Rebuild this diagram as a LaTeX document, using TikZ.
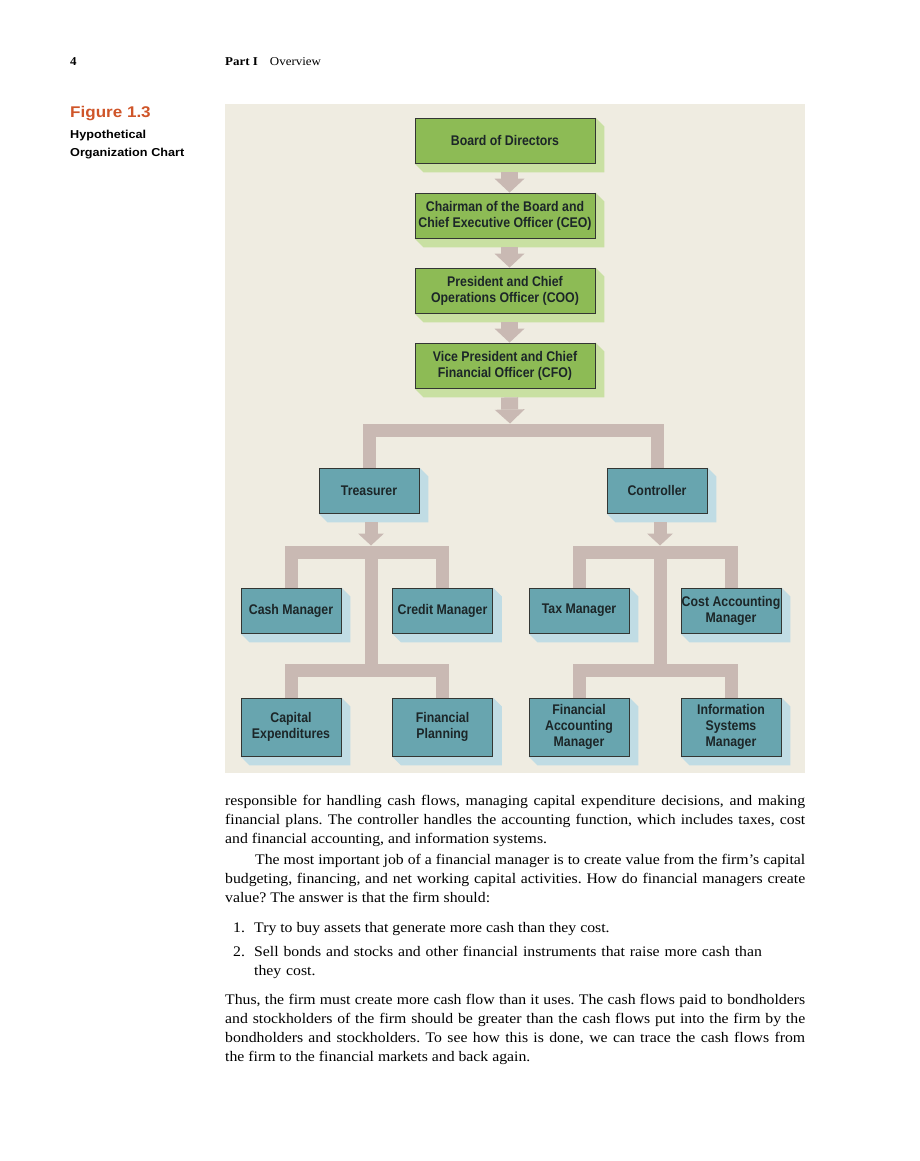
\documentclass[tikz,border=0pt]{standalone}
\usepackage{fontspec}
\setmainfont[FakeStretch=1.08]{Liberation Serif}
\newfontfamily\boxfont[FakeStretch=0.88]{Liberation Sans}
\newfontfamily\capfont[FakeStretch=1.1]{Liberation Sans}
\usetikzlibrary{arrows.meta}
\usetikzlibrary{backgrounds}

\definecolor{panel}{HTML}{EFECE1}
\definecolor{leafgreen}{HTML}{8DBB55}
\definecolor{leafshade}{HTML}{C9E0A2}
\definecolor{staffteal}{HTML}{68A5AF}
\definecolor{staffshade}{HTML}{C0DCE4}
\definecolor{pipe}{HTML}{C9B9B3}
\definecolor{boxline}{HTML}{333633}
\definecolor{boxtext}{HTML}{1C2628}
\definecolor{figred}{HTML}{CF5529}

\tikzset{
    officer/.style={draw=boxline, line width=0.8pt, fill=leafgreen, text=boxtext,
        minimum width=180pt, minimum height=45pt, inner sep=0pt, align=center,
        font=\boxfont\bfseries\fontsize{14}{16}\selectfont},
    staff/.style={officer, fill=staffteal, minimum width=100pt},
    chain/.style={draw=pipe, line width=17pt, -{Triangle[width=30pt,length=14pt,line width=0pt]}},
    feed/.style={draw=pipe, line width=13pt, -{Triangle[width=26pt,length=12pt,line width=0pt]}},
    branch/.style={draw=pipe, line width=13pt},
    bodytext/.style={inner sep=0pt, anchor=base west, font=\frenchspacing\fontsize{14.6}{19}\selectfont}
}

\begin{document}
\begin{tikzpicture}[x=1pt, y=-1pt]
    \useasboundingbox (0,0) rectangle (920,1161);
    %% header
    \node[anchor=base west, inner sep=0pt, font=\fontsize{12}{14}\selectfont] (pageno) at (70,66) {\bfseries 4};
    \node[anchor=base west, inner sep=0pt, font=\fontsize{12}{14}\selectfont] (running) at (225,66) {\textbf{Part I}\hspace{12pt}Overview};
    %% caption
    \node[anchor=base west, inner sep=0pt, text=figred, font=\capfont\bfseries\fontsize{15.5}{18}\selectfont] (figno) at (70,118) {Figure 1.3};
    \node[anchor=base west, inner sep=0pt, text width=150pt, align=left, font=\capfont\bfseries\fontsize{11.5}{18}\selectfont] (figtitle) at (70,139) {Hypothetical\\Organization Chart};
    %% officers
    \node[officer] (board) at (505,140.5) {Board of Directors};
    \node[officer] (ceo) at (505,215.5) {Chairman of the Board and\\Chief Executive Officer (CEO)};
    \node[officer] (coo) at (505,290.5) {President and Chief\\Operations Officer (COO)};
    \node[officer] (cfo) at (505,365.5) {Vice President and Chief\\Financial Officer (CFO)};
    %% treasurer and controller
    \node[staff] (treas) at (369,490.5) {Treasurer};
    \node[staff] (contr) at (657,490.5) {Controller};
    \node[staff] (cash) at (291,610.5) {Cash Manager};
    \node[staff] (credit) at (442.5,610.5) {Credit Manager};
    \node[staff] (tax) at (579,610.5) {Tax Manager};
    \node[staff] (cost) at (731,610.5) {Cost Accounting\\Manager};
    \node[staff, minimum height=58pt] (capex) at (291,727) {Capital\\Expenditures};
    \node[staff, minimum height=58pt] (plan) at (442.5,727) {Financial\\Planning};
    \node[staff, minimum height=58pt] (finacc) at (579,727) {Financial\\Accounting\\Manager};
    \node[staff, minimum height=58pt] (infosys) at (731,727) {Information\\Systems\\Manager};
    \coordinate (split1) at (510,430);
    \coordinate (split2) at (371,552);
    \coordinate (split3) at (371,670);
    \coordinate (split4) at (660,552);
    \coordinate (split5) at (660,670);
    %% panel, shades and pipes
    \begin{scope}[on background layer]
        \fill[panel] (225,104) rectangle (805,773);
        \foreach \n in {board,ceo,coo,cfo}
            \fill[leafshade] (\n.north east) -- ++(9,9) -- ([shift={(9,9)}]\n.south east)
                -- ([shift={(9,9)}]\n.south west) -- (\n.south west) -- (\n.south east) -- cycle;
        \foreach \n in {treas,contr,cash,credit,tax,cost,capex,plan,finacc,infosys}
            \fill[staffshade] (\n.north east) -- ++(9,9) -- ([shift={(9,9)}]\n.south east)
                -- ([shift={(9,9)}]\n.south west) -- (\n.south west) -- (\n.south east) -- cycle;
        \draw[chain] ([xshift=4.5pt,yshift=-9pt]board.south) -- ([xshift=4.5pt]ceo.north);
        \draw[chain] ([xshift=4.5pt,yshift=-9pt]ceo.south) -- ([xshift=4.5pt]coo.north);
        \draw[chain] ([xshift=4.5pt,yshift=-9pt]coo.south) -- ([xshift=4.5pt]cfo.north);
        \draw[chain] ([xshift=4.5pt,yshift=-9pt]cfo.south) -- ([yshift=6.5pt]split1);
        \draw[branch] (treas.north) |- (split1) -| (contr.north);
        \draw[feed] ([xshift=2pt,yshift=-9pt]treas.south) -- ([yshift=6.5pt]split2);
        \draw[branch] (cash.north) |- (split2) -| (credit.north);
        \draw[branch] (split2) -- (split3);
        \draw[branch] (capex.north) |- (split3) -| (plan.north);
        \draw[feed] ([xshift=3pt,yshift=-9pt]contr.south) -- ([yshift=6.5pt]split4);
        \draw[branch] (tax.north) |- (split4) -| (cost.north);
        \draw[branch] (split4) -- (split5);
        \draw[branch] (finacc.north) |- (split5) -| (infosys.north);
    \end{scope}
    %% text
    \node[bodytext, text width=580pt, align=justify] (para1) at (225,805) {responsible for handling cash flows, managing capital expenditure decisions, and making\linebreak financial plans. The controller handles the accounting function, which includes taxes, cost\linebreak and financial accounting, and information systems.};
    \node[bodytext, text width=580pt, align=justify] (para2) at (225,864) {\hspace*{30pt}The most important job of a financial manager is to create value from the firm’s capital\linebreak budgeting, financing, and net working capital activities. How do financial managers create\linebreak value? The answer is that the firm should:};
    \node[bodytext] (num1) at (233,932) {1.};
    \node[bodytext] (item1) at (254,932) {Try to buy assets that generate more cash than they cost.};
    \node[bodytext] (num2) at (233,956) {2.};
    \node[bodytext, text width=560pt, align=left] (item2) at (254,956) {Sell bonds and stocks and other financial instruments that raise more cash than\\they cost.};
    \node[bodytext, text width=580pt, align=justify] (para3) at (225,1004) {Thus, the firm must create more cash flow than it uses. The cash flows paid to bondholders\linebreak and stockholders of the firm should be greater than the cash flows put into the firm by the\linebreak bondholders and stockholders. To see how this is done, we can trace the cash flows from\linebreak the firm to the financial markets and back again.};
\end{tikzpicture}
\end{document}
